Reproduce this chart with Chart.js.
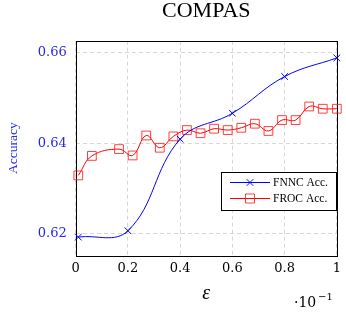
<!DOCTYPE html>
<html lang="en-US">
<head>
  <meta charset="utf-8">
  <title>COMPAS accuracy</title>
  <script src="https://cdn.jsdelivr.net/npm/chart.js@4/dist/chart.umd.min.js"></script>
  <style>
    html, body { margin: 0; padding: 0; background: #fff; }
    .wrapper { width: 346px; height: 313px; }
  </style>
</head>
<body>
  <div class="wrapper">
    <canvas id="chart-0"></canvas>
  </div>

  <script>
    // values
    let fnncX = [0.01, 0.2, 0.4, 0.6, 0.8, 1.0];
    let fnncY = [0.6193, 0.6207, 0.6409, 0.6466, 0.6547, 0.6588];

    let frocX = [0.01, 0.062, 0.166, 0.218, 0.27, 0.322, 0.374, 0.426, 0.478, 0.53,
                 0.582, 0.634, 0.686, 0.738, 0.79, 0.842, 0.894, 0.946, 1.0];
    let frocY = [0.6329, 0.6372, 0.6387, 0.6373, 0.6417, 0.6390, 0.6415, 0.6429, 0.6422, 0.6432,
                 0.6429, 0.6434, 0.6443, 0.6427, 0.6451, 0.6451, 0.6481, 0.6476, 0.6476];

    let xTicks = [0, 0.2, 0.4, 0.6, 0.8, 1];
    let yTicks = [0.62, 0.64, 0.66];

    let blue = 'rgb(0,0,255)';
    let red = 'rgb(255,0,0)';
    let tickBlue = 'rgb(40,40,230)';
    let gridColor = 'rgb(215,215,215)';

    function toPoints(xs, ys) {
      return xs.map((x, i) => ({x: x, y: ys[i]}));
    }

    // top/right axis lines, legend box and the ·10^-1 factor
    let framePlugin = {
      id: 'frame',
      beforeDatasetsDraw(chart) {
        let a = chart.chartArea;
        let ctx = chart.ctx;
        ctx.save();
        ctx.strokeStyle = '#000';
        ctx.lineWidth = 1;
        ctx.strokeRect(Math.round(a.left) + 0.5, Math.round(a.top) + 0.5,
          Math.round(a.right - a.left), Math.round(a.bottom - a.top));
        ctx.restore();
      },
      afterDraw(chart) {
        let ctx = chart.ctx;
        ctx.save();
        // legend
        let bx = 221.5, by = 172.5, bw = 115, bh = 38;
        ctx.fillStyle = '#fff';
        ctx.fillRect(bx, by, bw, bh);
        ctx.strokeStyle = '#000';
        ctx.lineWidth = 1;
        ctx.strokeRect(bx, by, bw, bh);
        chart.data.datasets.forEach(function(ds, i) {
          let y = 182.5 + i * 16;
          ctx.strokeStyle = ds.borderColor;
          ctx.lineWidth = 1;
          ctx.beginPath();
          ctx.moveTo(230, y);
          ctx.lineTo(270, y);
          ctx.stroke();
          ctx.strokeStyle = ds.pointBorderColor;
          ctx.beginPath();
          if (ds.pointStyle === 'crossRot') {
            let d = 3.3;
            ctx.moveTo(250 - d, y - d); ctx.lineTo(250 + d, y + d);
            ctx.moveTo(250 - d, y + d); ctx.lineTo(250 + d, y - d);
          } else {
            ctx.rect(250 - 4.5, y - 4.5, 9, 9);
          }
          ctx.stroke();
          ctx.fillStyle = '#000';
          ctx.font = '11.5px "Liberation Serif"';
          ctx.textBaseline = 'middle';
          ctx.textAlign = 'left';
          ctx.fillText(ds.label, 273, y + 0.5);
        });
        // axis multiplier
        ctx.fillStyle = '#000';
        ctx.textBaseline = 'alphabetic';
        ctx.font = '14px "DejaVu Serif"';
        ctx.fillText('\u00b710', 294, 306.5);
        ctx.font = '10px "DejaVu Serif"';
        ctx.fillText('\u22121', 318, 300);
        ctx.restore();
      }
    };

    let chart = new Chart('chart-0', {
      type: 'line',
      data: {
        datasets: [
          {
            label: 'FNNC Acc.',
            data: toPoints(fnncX, fnncY),
            borderColor: blue,
            borderWidth: 1,
            pointStyle: 'crossRot',
            pointRadius: 4.7,
            pointBorderColor: blue,
            pointBorderWidth: 1,
            tension: 0.4,
            fill: false,
            clip: false
          },
          {
            label: 'FROC Acc.',
            data: toPoints(frocX, frocY),
            borderColor: red,
            borderWidth: 1,
            pointStyle: 'rect',
            pointRadius: 6.2,
            pointBorderColor: 'rgba(255,30,30,0.85)',
            pointBackgroundColor: 'rgba(0,0,0,0)',
            pointBorderWidth: 1,
            tension: 0.4,
            fill: false,
            clip: false
          }
        ]
      },
      options: {
        responsive: true,
        maintainAspectRatio: false,
        animation: false,
        events: [],
        layout: {
          padding: {left: 0, right: 3, top: 0, bottom: 0}
        },
        plugins: {
          legend: {display: false},
          tooltip: {enabled: false},
          title: {
            display: true,
            text: 'COMPAS',
            fullSize: false,
            color: '#000',
            font: {family: '"Liberation Serif"', size: 22, weight: 'normal', lineHeight: 1},
            padding: {top: 0, bottom: 18.7}
          }
        },
        scales: {
          x: {
            type: 'linear',
            min: 0,
            max: 1,
            afterBuildTicks: function(scale) {
              scale.ticks = xTicks.map(v => ({value: v}));
            },
            afterFit: function(scale) {
              scale.height = 57.3;
            },
            ticks: {
              color: '#000',
              padding: 5,
              maxRotation: 0,
              font: {family: '"DejaVu Serif"', size: 13},
              callback: function(v) {
                return (v === 0 || v === 1) ? String(v) : v.toFixed(1);
              }
            },
            grid: {
              color: gridColor,
              drawTicks: false
            },
            border: {display: false, dash: [4, 3]},
            title: {
              display: true,
              text: '\u03b5',
              color: '#000',
              font: {family: '"Liberation Serif"', size: 20, style: 'italic', lineHeight: 1.2},
              padding: {top: 0, bottom: 7.5}
            }
          },
          y: {
            type: 'linear',
            min: 0.6152,
            max: 0.6626,
            afterBuildTicks: function(scale) {
              scale.ticks = yTicks.map(v => ({value: v}));
            },
            afterFit: function(scale) {
              scale.width = 75.7;
            },
            ticks: {
              color: tickBlue,
              padding: 9,
              font: {family: '"DejaVu Serif"', size: 13},
              callback: function(v) {
                return v.toFixed(2);
              }
            },
            grid: {
              color: gridColor,
              drawTicks: false
            },
            border: {display: false, dash: [4, 3]},
            title: {
              display: true,
              text: 'Accuracy',
              color: tickBlue,
              font: {family: '"Liberation Serif"', size: 13.5, lineHeight: 1.2},
              padding: {top: 5, bottom: 0}
            }
          }
        }
      },
      plugins: [framePlugin]
    });
  </script>
</body>
</html>
